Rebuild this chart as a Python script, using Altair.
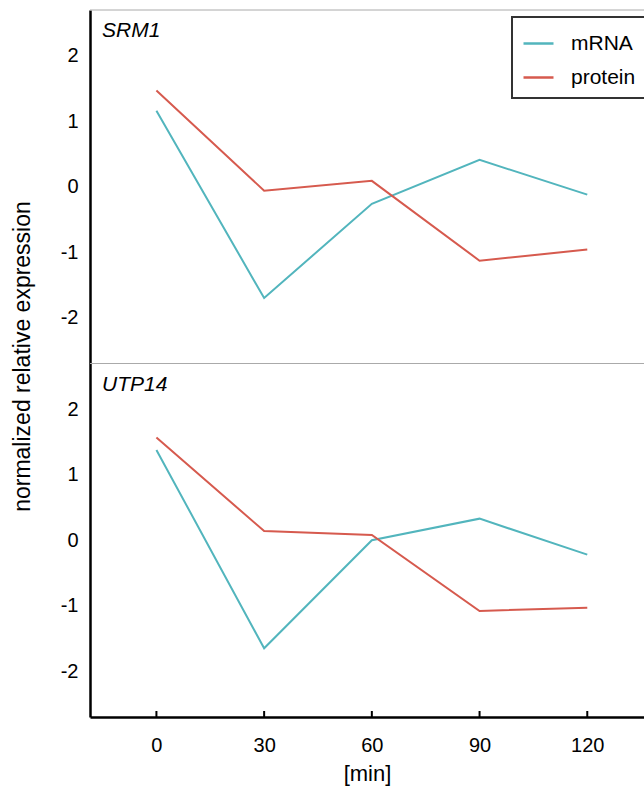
import altair as alt
import pandas as pd

times = [0, 30, 60, 90, 120]
series_names = ["mRNA", "protein"]
genes = ["SRM1", "UTP14"]
srm1_mrna = [1.16, -1.70, -0.26, 0.41, -0.12]
srm1_protein = [1.47, -0.06, 0.09, -1.13, -0.96]
utp14_mrna = [1.38, -1.65, 0.00, 0.33, -0.22]
utp14_protein = [1.57, 0.14, 0.08, -1.08, -1.03]
y_ticks = [-2, -1, 0, 1, 2]
panel_span = 5.4          # each panel shows -2.7 .. 2.7
panel_tops = [2.7, -2.7]  # top edge of each panel on the stacked scale

TEAL = "#52B5BD"
RED = "#D65A4E"
FONT = "Liberation Sans"
W, H = 554, 707

rows = []
for gi, (gene, mrna, prot) in enumerate(
    [(genes[0], srm1_mrna, srm1_protein), (genes[1], utp14_mrna, utp14_protein)]
):
    for t, v in zip(times, mrna):
        rows.append({"gene": gene, "panel": gi, "t": t, "v": v, "series": series_names[0]})
    for t, v in zip(times, prot):
        rows.append({"gene": gene, "panel": gi, "t": t, "v": v, "series": series_names[1]})
df = pd.DataFrame(rows)

# axis tick values for both stacked panels
tick_values = [v for v in y_ticks] + [v - panel_span for v in y_ticks]

x_scale = alt.Scale(domain=[-18.5, 135.8], nice=False, zero=False)
y_scale = alt.Scale(domain=[2.7 - 2 * panel_span, 2.7], nice=False, zero=False)

lines = alt.Chart(df).transform_calculate(
    yv=f"datum.v - {panel_span} * datum.panel"
).mark_line(strokeWidth=2).encode(
    x=alt.X(
        "t:Q", scale=x_scale,
        axis=alt.Axis(
            values=times, ticks=False, grid=False, domainColor="black",
            domainWidth=2.5, labelFontSize=20, labelFont=FONT, labelColor="black",
            labelPadding=18, title="[min]", titleFontSize=22, titleFont=FONT,
            titleFontWeight="normal", titleColor="black", titlePadding=8,
        ),
    ),
    y=alt.Y(
        "yv:Q", scale=y_scale,
        axis=alt.Axis(
            values=tick_values, ticks=False, grid=False, domainColor="black",
            domainWidth=2.5, labelFontSize=20, labelFont=FONT, labelColor="black",
            labelPadding=12,
            labelExpr=f"datum.value < -2.7 ? '' + round(datum.value + {panel_span}) : '' + round(datum.value)",
            title="normalized relative expression", titleFontSize=23,
            titleFont=FONT, titleFontWeight="normal", titleColor="black",
            titleX=-68, titleY=346, titleBaseline="middle",
        ),
    ),
    color=alt.Color(
        "series:N",
        scale=alt.Scale(domain=series_names, range=[TEAL, RED]),
        legend=alt.Legend(
            title=None, orient="none", legendX=422, legendY=7,
            symbolType="stroke", symbolSize=900, symbolStrokeWidth=2.5,
            labelFontSize=21, labelFont=FONT, labelColor="black",
            labelExpr="datum.label + '\u00a0\u00a0\u00a0\u00a0'",
            padding=10, rowPadding=7, labelOffset=16,
            strokeColor="#333333", fillColor="white", cornerRadius=0,
        ),
    ),
    detail="gene:N",
)

edges = alt.Chart(pd.DataFrame({"edge": panel_tops})).mark_rule(
    color="#AAAAAA", strokeWidth=1
).encode(y=alt.Y("edge:Q", scale=y_scale))

labels = alt.Chart(pd.DataFrame({"gene": genes, "edge": panel_tops})).mark_text(
    align="left", baseline="alphabetic", fontStyle="italic",
    fontSize=21, font=FONT, color="black", dy=27,
).encode(x=alt.value(12), y=alt.Y("edge:Q", scale=y_scale), text="gene:N")

ticks = alt.Chart(pd.DataFrame({"t": times})).mark_rule(
    color="black", strokeWidth=2
).encode(
    x=alt.X("t:Q", scale=x_scale),
    y=alt.value(H - 6),
    y2=alt.value(H),
)

chart = (
    alt.layer(edges, lines, labels, ticks)
    .properties(
        width=W, height=H,
        autosize=alt.AutoSizeParams(type="none"),
        padding={"left": 90, "top": 10, "right": 0, "bottom": 70},
    )
    .configure(font=FONT)
    .configure_view(stroke="transparent")
    .configure_legend(strokeWidth=2)
)

chart.save("out.html", embed_options={"renderer": "svg", "actions": False})
